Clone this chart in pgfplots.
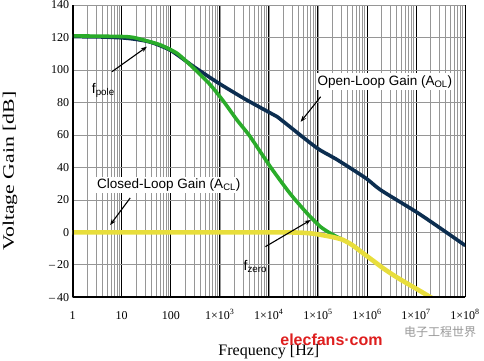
\documentclass[border=0pt]{standalone}
\usepackage{pgfplots}
\pgfplotsset{compat=1.18}
\usepackage{fontspec}
\setmainfont{Liberation Serif}
\newfontfamily\arial{Liberation Sans}
\newfontfamily\cjk{Noto Sans CJK SC}
\usetikzlibrary{arrows.meta}
\definecolor{olnavy}{RGB}{12,46,80}
\definecolor{clgreen}{RGB}{42,172,42}
\definecolor{clyellow}{RGB}{232,222,60}
\definecolor{gridgray}{RGB}{150,150,150}
\definecolor{wmred}{RGB}{222,30,30}
\begin{document}
\begin{tikzpicture}
\path[use as bounding box] (-72.7pt,-62.7pt) rectangle (411.3pt,297.3pt);
\begin{axis}[
  scale only axis,
  width=392.3pt, height=292.3pt,
  xmode=log,
  xmin=1, xmax=1e8, ymin=-40, ymax=140,
  xtick={1,10,100,1000,1e4,1e5,1e6,1e7,1e8},
  xticklabels={1,10,100,1×10\textsuperscript{3},1×10\textsuperscript{4},1×10\textsuperscript{5},1×10\textsuperscript{6},1×10\textsuperscript{7},1×10\textsuperscript{8}},
  ytick={-40,-20,0,20,40,60,80,100,120,140},
  yticklabels={–\,40,–\,20,0,20,40,60,80,100,120,140},
  grid=both,
  grid style={gridgray, line width=0.6pt},
  major x grid style={black, line width=0.8pt},
  minor x grid style={gridgray, line width=0.6pt},
  major y grid style={gridgray, line width=0.7pt},
  tick style={draw=none},
  axis line style={draw=none},
  tick label style={font=\fontsize{12}{12}\selectfont},
  xticklabel style={anchor=base, yshift=-22pt},
  xlabel={Frequency [Hz]},
  xlabel style={at={(axis description cs:0.5,0)}, anchor=base, yshift=-58pt, font=\fontsize{16}{16}\selectfont},
  ylabel={\scalebox{1.36}[1]{Voltage Gain [dB]}},
  ylabel style={at={(axis description cs:-0.16,0.432)}, anchor=center, font=\fontsize{16}{16}\selectfont},
]
% Open-loop gain
\addplot[olnavy, line width=3.6pt, smooth, tension=0.4, line cap=round] coordinates {
(1,120.5) (3.16,120.4) (10,119.8) (20,118.8) (40,117) (100,112) (295,102) (955,91.8)
(3090,82.5) (1e4,74) (1.48e4,71.2) (5.25e4,58) (1.05e5,51.1) (2.51e5,44.6)
(9.55e5,33.3) (1.9e6,26.1) (1e7,12.7) (3.16e7,2.5) (1e8,-8)
};
% Loop gain (green)
\addplot[clgreen, line width=3.6pt, smooth, tension=0.4, line cap=round] coordinates {
(1,121) (10,120.6) (17.4,120) (31.6,118) (61.7,115.4) (135,110.2) (295,101)
(646,90.7) (1202,80.5) (2239,69.2) (4169,58.9) (10715,40.4) (26915,24)
(60256,11.7) (112202,3.5) (177828,-0.5) (281838,-3.7)
};
% Closed-loop gain
\addplot[clyellow, line width=4.6pt, smooth, tension=0.4] coordinates {
(1,0) (1000,0) (2e4,0) (43652,-0.2) (70795,-0.6) (112202,-1.5) (199526,-2.9)
(316228,-4.5) (501187,-7.8) (891251,-13.5) (1.413e6,-18) (2.239e6,-22.5)
(3.98e6,-27.5) (7.08e6,-32) (1.122e7,-35.5) (1.995e7,-40) (2.24e7,-41)
};
% axis lines (left and bottom)
\draw[black, line width=2.4pt] (axis cs:1,140) -- (axis cs:1,-40) -- (axis cs:1e8,-40);
% annotations
\node[anchor=base west, font=\arial\fontsize{14}{14}\selectfont, inner sep=0pt] at (axis cs:2.44,85.8) {f\textsubscript{pole}};
\draw[black, line width=1.1pt, -{Stealth[length=6pt,width=4.5pt]}] (axis cs:6.3,98.9) -- (axis cs:32.6,114.3);
\node[fill=white, inner sep=2pt, font=\arial\fontsize{13.5}{14}\selectfont] at (axis cs:2.32e6,92.8) {Open-Loop Gain (A\textsubscript{OL})};
\draw[black, line width=1.1pt, -{Stealth[length=6pt,width=4.5pt]}] (axis cs:1.14e5,83.5) -- (axis cs:4.45e4,68.1);
\node[fill=white, inner sep=2pt, font=\arial\fontsize{13.5}{14}\selectfont] at (axis cs:91,29.2) {Closed-Loop Gain (A\textsubscript{CL})};
\draw[black, line width=1.1pt, -{Stealth[length=6pt,width=4.5pt]}] (axis cs:14.9,21.2) -- (axis cs:5.8,4.5);
\node[anchor=base west, font=\arial\fontsize{14}{14}\selectfont, inner sep=0pt] at (axis cs:3040,-23.2) {f\textsubscript{zero}};
\draw[black, line width=1.1pt, -{Stealth[length=6pt,width=4.5pt]}] (axis cs:8520,-8.8) -- (axis cs:7.13e4,7.6);
\end{axis}
\node[text=wmred, font=\arial\bfseries\fontsize{16}{16}\selectfont] at (258.8pt,-42.7pt) {elecfans·com};
\node[text=gray!80, font=\cjk\fontsize{12}{12}\selectfont] at (367.3pt,-34.7pt) {电子工程世界};
\end{tikzpicture}
\end{document}
